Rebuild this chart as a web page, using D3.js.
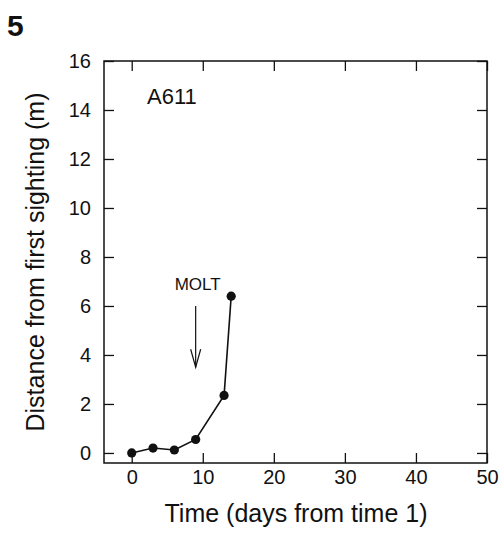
<!DOCTYPE html>
<html>
<head>
<meta charset="utf-8">
<script src="https://cdn.jsdelivr.net/npm/d3@7"></script>
<style>
  body { margin:0; background:#fff; }
  svg text { font-family: "Liberation Sans", Arial, sans-serif; fill:#111; }
</style>
</head>
<body>
<svg width="501" height="548"></svg>
<script>
// data
var days = [0, 3, 6, 9, 13, 14];
var distance = [0, 0.2, 0.12, 0.55, 2.35, 6.4];
var xTicks = [0, 10, 20, 30, 40, 50];
var yTicks = [0, 2, 4, 6, 8, 10, 12, 14, 16];
var moltDay = 9;
var moltFrom = 6.0, moltTo = 3.5;

var margin = {left:104, top:61, right:14, bottom:85};
var width = 501 - margin.left - margin.right,
    height = 548 - margin.top - margin.bottom;

var svg = d3.select("svg");

var x = d3.scaleLinear().domain([-3.9, 50]).range([0, width]);
var y = d3.scaleLinear().domain([-0.41, 16]).range([height, 0]);

var g = svg.append("g").attr("transform","translate(" + margin.left + "," + margin.top + ")");

// frame
g.append("rect")
 .attr("width", width).attr("height", height)
 .attr("fill","none").attr("stroke","#111").attr("stroke-width",1.5);

// axes, ticks pointing inward on all four sides
var axLeft = g.append("g")
  .call(d3.axisLeft(y).tickValues(yTicks).tickSize(-10).tickPadding(13));
var axBottom = g.append("g").attr("transform","translate(0," + height + ")")
  .call(d3.axisBottom(x).tickValues(xTicks).tickSize(-10).tickPadding(7));
var axTop = g.append("g")
  .call(d3.axisTop(x).tickValues(xTicks).tickSize(-10).tickFormat(""));
var axRight = g.append("g").attr("transform","translate(" + width + ",0)")
  .call(d3.axisRight(y).tickValues(yTicks).tickSize(-10).tickFormat(""));

[axLeft, axBottom, axTop, axRight].forEach(function(a){
  a.select(".domain").remove();
  a.selectAll(".tick line").attr("stroke","#111").attr("stroke-width",1.3);
  a.selectAll(".tick text").attr("font-size", 20).attr("fill","#111");
});

// line + points
var line = d3.line()
  .x(function(d, i){ return x(days[i]); })
  .y(function(d){ return y(d); });

g.append("path")
 .datum(distance)
 .attr("d", line)
 .attr("fill","none").attr("stroke","#111").attr("stroke-width",1.6);

g.selectAll(".pt")
 .data(distance)
 .enter().append("circle")
 .attr("class","pt")
 .attr("cx", function(d, i){ return x(days[i]); })
 .attr("cy", function(d){ return y(d); })
 .attr("r", 4.6)
 .attr("fill","#111");

// molt arrow
var ax = x(moltDay);
g.append("line")
 .attr("x1", ax).attr("x2", ax)
 .attr("y1", y(moltFrom)).attr("y2", y(moltTo))
 .attr("stroke","#111").attr("stroke-width",1.2);
g.append("path")
 .attr("d", "M" + (ax - 5) + "," + (y(moltTo) - 18) + "L" + ax + "," + y(moltTo) + "L" + (ax + 5) + "," + (y(moltTo) - 18))
 .attr("fill","none").attr("stroke","#111").attr("stroke-width",1.2);
g.append("text")
 .attr("x", ax + 2).attr("y", y(moltFrom) - 16)
 .attr("text-anchor","middle").attr("font-size",17)
 .text("MOLT");

// series label
g.append("text")
 .attr("x", 43).attr("y", 43)
 .attr("font-size", 22)
 .text("A611");

// axis titles
svg.append("text")
 .attr("x", 296).attr("y", 522)
 .attr("text-anchor","middle").attr("font-size",25)
 .text("Time (days from time 1)");

svg.append("text")
 .attr("transform","translate(44,262) rotate(-90)")
 .attr("text-anchor","middle").attr("font-size",25)
 .text("Distance from first sighting (m)");

// panel number
svg.append("text")
 .attr("x", 7).attr("y", 36)
 .attr("font-size", 30).attr("font-weight","bold")
 .text("5");
</script>
</body>
</html>
